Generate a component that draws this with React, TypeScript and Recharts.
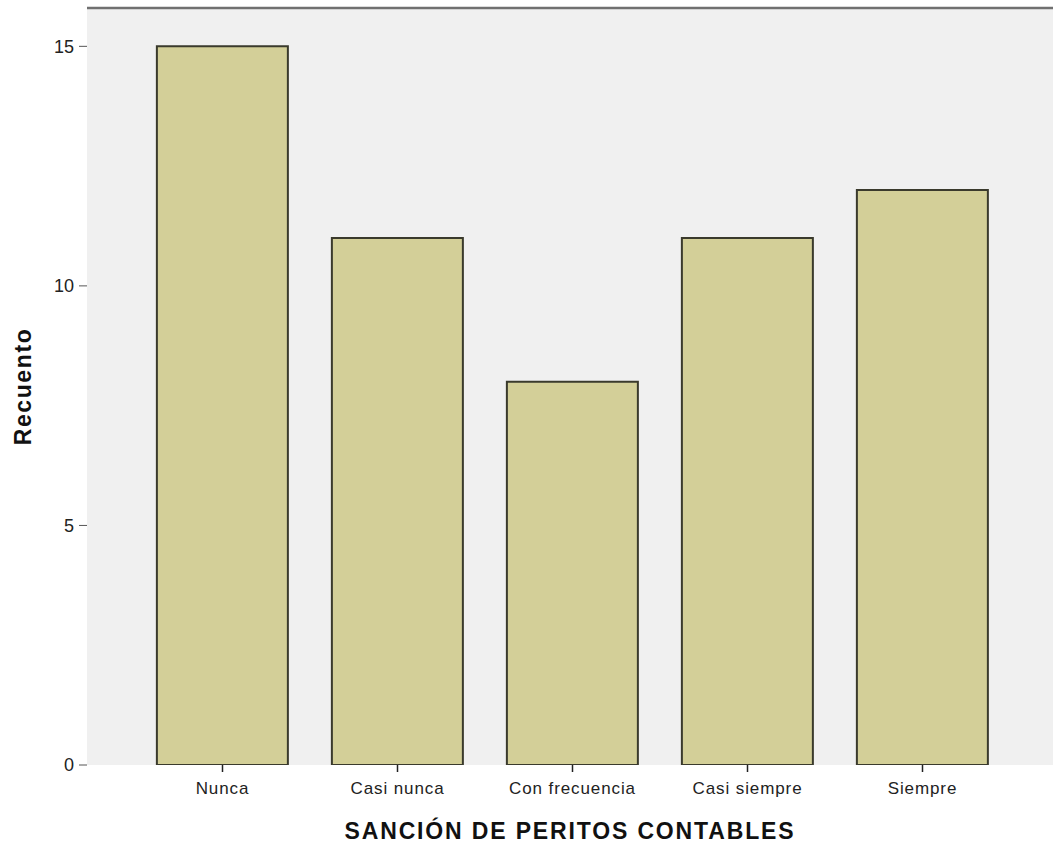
import React from "react";
import { BarChart, Bar, XAxis, YAxis, CartesianGrid, ReferenceLine, Label } from "recharts";

const categories = ["Nunca", "Casi nunca", "Con frecuencia", "Casi siempre", "Siempre"];
const counts = [15, 11, 8, 11, 12];
const yTicks = [0, 5, 10, 15];

const data = categories.map((c, i) => ({ name: c, value: counts[i] }));

const FONT = "Liberation Sans, Arial, sans-serif";

export default function App() {
  return (
    <div style={{ position: "absolute", left: 0, top: 0, background: "#fff" }}>
      <BarChart
        width={1053}
        height={843}
        data={data}
        margin={{ top: 8, right: 0, bottom: 0, left: 0 }}
        barCategoryGap="12.5%"
      >
        <CartesianGrid horizontal={false} vertical={false} fill="#f0f0f0" />
        <XAxis
          dataKey="name"
          padding={{ left: 48, right: 43 }}
          axisLine={false}
          tickLine={{ stroke: "#222", strokeWidth: 1.5 }}
          tickSize={7}
          tick={{ fill: "#222", fontSize: 17, fontFamily: FONT, letterSpacing: 0.9 }}
          tickMargin={10}
          height={78}
          interval={0}
        >
          <Label
            value="SANCIÓN DE PERITOS CONTABLES"
            position="insideBottom"
            offset={4}
            style={{ fill: "#111", fontSize: 23, fontWeight: 700, fontFamily: FONT, letterSpacing: 1.85 }}
          />
        </XAxis>
        <YAxis
          domain={[0, 15.8]}
          ticks={yTicks}
          axisLine={false}
          tickLine={{ stroke: "#555", strokeWidth: 1 }}
          tickSize={8}
          tick={{ fill: "#222", fontSize: 18, fontFamily: FONT }}
          tickMargin={5}
          width={87}
          allowDataOverflow
        >
          <Label
            value="Recuento"
            angle={-90}
            position="insideLeft"
            offset={23}
            style={{ fill: "#111", fontSize: 23, fontWeight: 700, fontFamily: FONT, textAnchor: "middle", letterSpacing: 1.6 }}
          />
        </YAxis>
        <ReferenceLine y={15.8} stroke="#707070" strokeWidth={2.5} ifOverflow="extendDomain" />
        <Bar dataKey="value" fill="#d3cf98" stroke="#3a3a2c" strokeWidth={2} isAnimationActive={false} />
      </BarChart>
    </div>
  );
}
